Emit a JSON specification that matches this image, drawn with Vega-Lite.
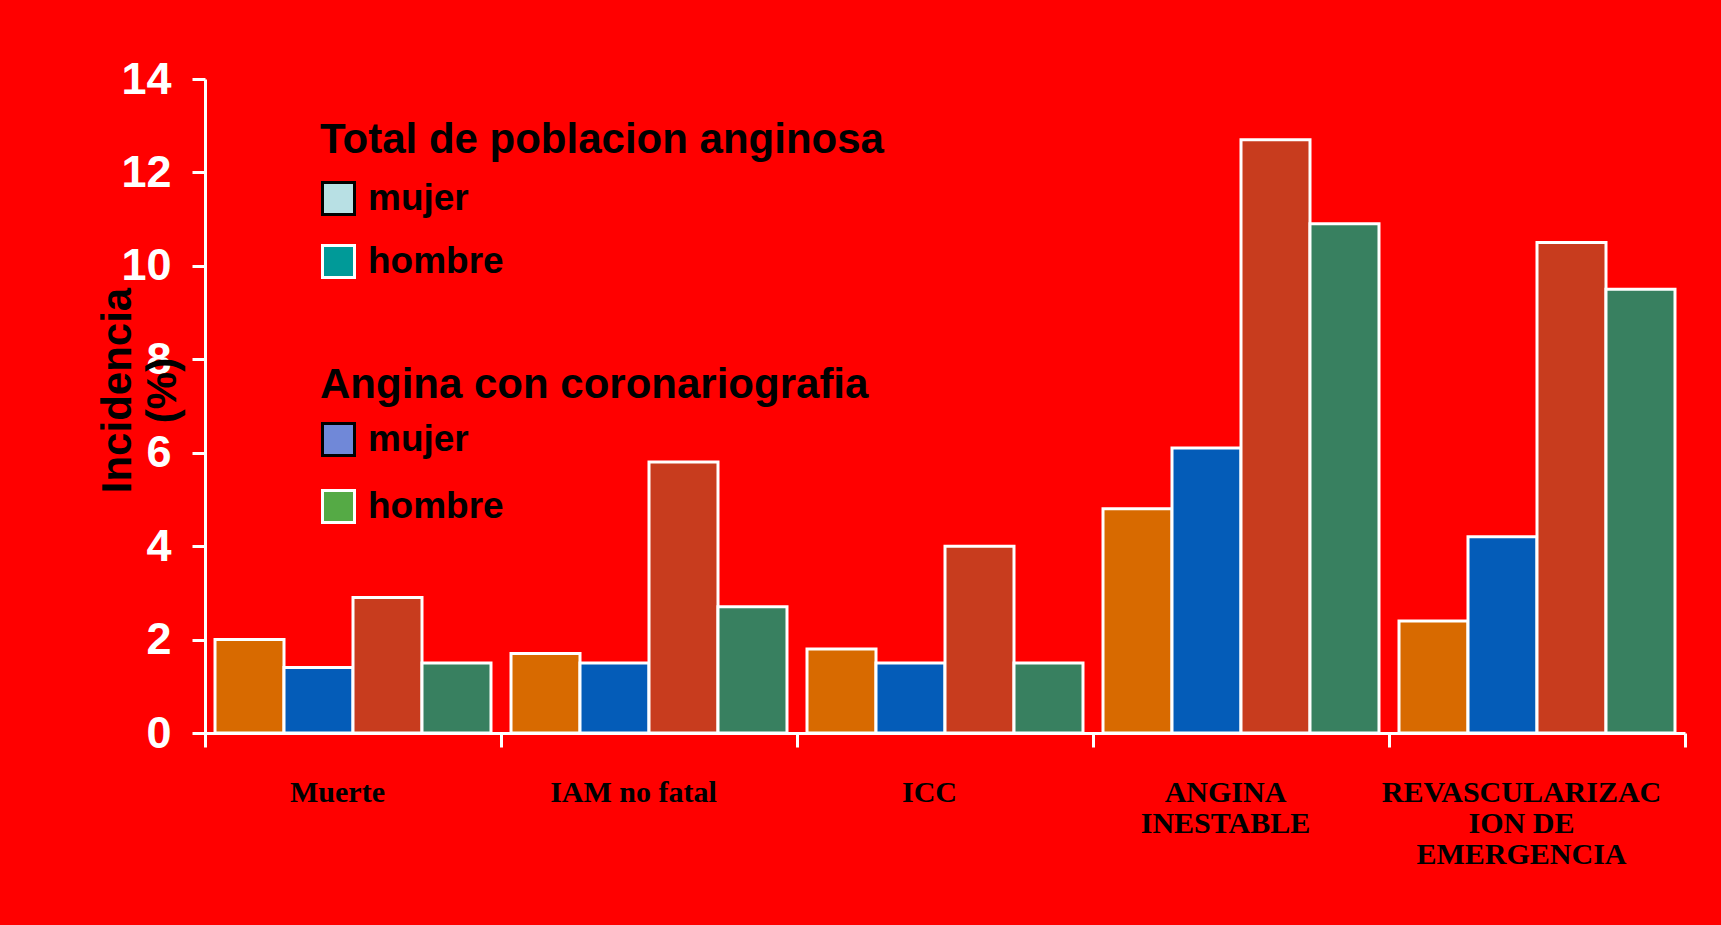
{
  "$schema": "https://vega.github.io/schema/vega-lite/v6.json",
  "autosize": {"type": "none"},
  "padding": {"left": 205, "top": 79, "right": 36, "bottom": 192},
  "width": 1480,
  "height": 654,
  "background": "#FF0000",
  "config": {"view": {"stroke": null}},
  "resolve": {
    "scale": {"fill": "independent", "stroke": "independent"},
    "legend": {"fill": "independent", "stroke": "independent"}
  },
  "layer": [
    {
      "data": {
        "values": [
          {"categoria": "Muerte", "serie": "Total mujer", "incidencia": 2.0},
          {"categoria": "Muerte", "serie": "Total hombre", "incidencia": 1.4},
          {"categoria": "Muerte", "serie": "Coronariografia mujer", "incidencia": 2.9},
          {"categoria": "Muerte", "serie": "Coronariografia hombre", "incidencia": 1.5},
          {"categoria": "IAM no fatal", "serie": "Total mujer", "incidencia": 1.7},
          {"categoria": "IAM no fatal", "serie": "Total hombre", "incidencia": 1.5},
          {"categoria": "IAM no fatal", "serie": "Coronariografia mujer", "incidencia": 5.8},
          {"categoria": "IAM no fatal", "serie": "Coronariografia hombre", "incidencia": 2.7},
          {"categoria": "ICC", "serie": "Total mujer", "incidencia": 1.8},
          {"categoria": "ICC", "serie": "Total hombre", "incidencia": 1.5},
          {"categoria": "ICC", "serie": "Coronariografia mujer", "incidencia": 4.0},
          {"categoria": "ICC", "serie": "Coronariografia hombre", "incidencia": 1.5},
          {"categoria": "ANGINA INESTABLE", "serie": "Total mujer", "incidencia": 4.8},
          {"categoria": "ANGINA INESTABLE", "serie": "Total hombre", "incidencia": 6.1},
          {"categoria": "ANGINA INESTABLE", "serie": "Coronariografia mujer", "incidencia": 12.7},
          {"categoria": "ANGINA INESTABLE", "serie": "Coronariografia hombre", "incidencia": 10.9},
          {"categoria": "REVASCULARIZACION DE EMERGENCIA", "serie": "Total mujer", "incidencia": 2.4},
          {"categoria": "REVASCULARIZACION DE EMERGENCIA", "serie": "Total hombre", "incidencia": 4.2},
          {"categoria": "REVASCULARIZACION DE EMERGENCIA", "serie": "Coronariografia mujer", "incidencia": 10.5},
          {"categoria": "REVASCULARIZACION DE EMERGENCIA", "serie": "Coronariografia hombre", "incidencia": 9.5}
        ]
      },
      "mark": {"type": "bar", "stroke": "#FFFFFF", "strokeWidth": 3},
      "encoding": {
        "x": {
          "field": "categoria",
          "type": "nominal",
          "sort": ["Muerte", "IAM no fatal", "ICC", "ANGINA INESTABLE", "REVASCULARIZACION DE EMERGENCIA"],
          "scale": {"paddingInner": 0, "paddingOuter": 0},
          "axis": {
            "title": null,
            "labelAngle": 0,
            "labelFont": "Liberation Serif",
            "labelFontWeight": "bold",
            "labelFontSize": 30,
            "labelColor": "#000000",
            "labelLimit": 600,
            "labelPadding": 30,
            "labelOffset": -16,
            "labelBaseline": "top",
            "labelAlign": "center",
            "labelLineHeight": 31,
            "labelOverlap": false,
            "labelExpr": "datum.value == 'ANGINA INESTABLE' ? ['ANGINA', 'INESTABLE'] : datum.value == 'REVASCULARIZACION DE EMERGENCIA' ? ['REVASCULARIZAC', 'ION DE', 'EMERGENCIA'] : datum.label",
            "domainColor": "#FFFFFF",
            "domainWidth": 3,
            "tickColor": "#FFFFFF",
            "tickWidth": 3,
            "tickSize": 14,
            "tickBand": "extent"
          }
        },
        "xOffset": {
          "field": "serie",
          "type": "nominal",
          "sort": ["Total mujer", "Total hombre", "Coronariografia mujer", "Coronariografia hombre"],
          "scale": {"paddingInner": 0, "paddingOuter": 0.145}
        },
        "y": {
          "field": "incidencia",
          "type": "quantitative",
          "scale": {"domain": [0, 14], "nice": false},
          "axis": {
            "values": [0, 2, 4, 6, 8, 10, 12, 14],
            "grid": false,
            "labelFont": "Liberation Sans",
            "labelFontWeight": "bold",
            "labelFontSize": 45,
            "labelColor": "#FFFFFF",
            "labelPadding": 21,
            "labelFlush": false,
            "labelOverlap": false,
            "tickSize": 13,
            "tickWidth": 3,
            "tickColor": "#FFFFFF",
            "domainColor": "#FFFFFF",
            "domainWidth": 3,
            "title": ["Incidencia", "(%)"],
            "titleFont": "Liberation Sans",
            "titleFontSize": 42,
            "titleFontWeight": "bold",
            "titleColor": "#000000",
            "titleAngle": 270,
            "titleAlign": "center",
            "titleBaseline": "alphabetic",
            "titleX": -75,
            "titleY": 311,
            "titleLineHeight": 45
          }
        },
        "color": {
          "field": "serie",
          "type": "nominal",
          "scale": {
            "domain": ["Total mujer", "Total hombre", "Coronariografia mujer", "Coronariografia hombre"],
            "range": ["#D86A00", "#045CB8", "#C83C1E", "#388060"]
          },
          "legend": null
        }
      }
    },
    {
      "data": {"values": [{"sexo": "mujer"}, {"sexo": "hombre"}]},
      "transform": [{"filter": "false"}],
      "mark": {"type": "square", "opacity": 1},
      "encoding": {
        "fill": {
          "field": "sexo",
          "type": "nominal",
          "scale": {"domain": ["mujer", "hombre"], "range": ["#B8E0E4", "#009A98"]},
          "legend": {
            "title": "Total de poblacion anginosa",
            "orient": "none", "legendX": 115, "legendY": 41, "padding": 0,
            "titleFont": "Liberation Sans", "titleFontSize": 42, "titleFontWeight": "bold", "titleColor": "#000000", "titleLimit": 1200, "titlePadding": 18,
            "labelFont": "Liberation Sans", "labelFontSize": 37, "labelFontWeight": "bold", "labelColor": "#000000", "labelOffset": 11, "labelLimit": 400,
            "symbolType": "square", "symbolSize": 1024, "symbolStrokeWidth": 3, "symbolOpacity": 1, "rowPadding": 18, "direction": "vertical"
          }
        },
        "stroke": {
          "field": "sexo",
          "type": "nominal",
          "scale": {"domain": ["mujer", "hombre"], "range": ["#000000", "#FFFFFF"]},
          "legend": {
            "title": "Total de poblacion anginosa",
            "orient": "none", "legendX": 115, "legendY": 41, "padding": 0,
            "titleFont": "Liberation Sans", "titleFontSize": 42, "titleFontWeight": "bold", "titleColor": "#000000", "titleLimit": 1200, "titlePadding": 18,
            "labelFont": "Liberation Sans", "labelFontSize": 37, "labelFontWeight": "bold", "labelColor": "#000000", "labelOffset": 11, "labelLimit": 400,
            "symbolType": "square", "symbolSize": 1024, "symbolStrokeWidth": 3, "symbolOpacity": 1, "rowPadding": 18, "direction": "vertical"
          }
        }
      }
    },
    {
      "data": {"values": [{"sexo": "mujer"}, {"sexo": "hombre"}]},
      "transform": [{"filter": "false"}],
      "mark": {"type": "square", "opacity": 1},
      "encoding": {
        "fill": {
          "field": "sexo",
          "type": "nominal",
          "scale": {"domain": ["mujer", "hombre"], "range": ["#7088D8", "#55AA45"]},
          "legend": {
            "title": "Angina con coronariografia",
            "orient": "none", "legendX": 115, "legendY": 286, "padding": 0,
            "titleFont": "Liberation Sans", "titleFontSize": 42, "titleFontWeight": "bold", "titleColor": "#000000", "titleLimit": 1200, "titlePadding": 14,
            "labelFont": "Liberation Sans", "labelFontSize": 37, "labelFontWeight": "bold", "labelColor": "#000000", "labelOffset": 11, "labelLimit": 400,
            "symbolType": "square", "symbolSize": 1024, "symbolStrokeWidth": 3, "symbolOpacity": 1, "rowPadding": 22, "direction": "vertical"
          }
        },
        "stroke": {
          "field": "sexo",
          "type": "nominal",
          "scale": {"domain": ["mujer", "hombre"], "range": ["#000000", "#FFFFFF"]},
          "legend": {
            "title": "Angina con coronariografia",
            "orient": "none", "legendX": 115, "legendY": 286, "padding": 0,
            "titleFont": "Liberation Sans", "titleFontSize": 42, "titleFontWeight": "bold", "titleColor": "#000000", "titleLimit": 1200, "titlePadding": 14,
            "labelFont": "Liberation Sans", "labelFontSize": 37, "labelFontWeight": "bold", "labelColor": "#000000", "labelOffset": 11, "labelLimit": 400,
            "symbolType": "square", "symbolSize": 1024, "symbolStrokeWidth": 3, "symbolOpacity": 1, "rowPadding": 22, "direction": "vertical"
          }
        }
      }
    }
  ]
}
